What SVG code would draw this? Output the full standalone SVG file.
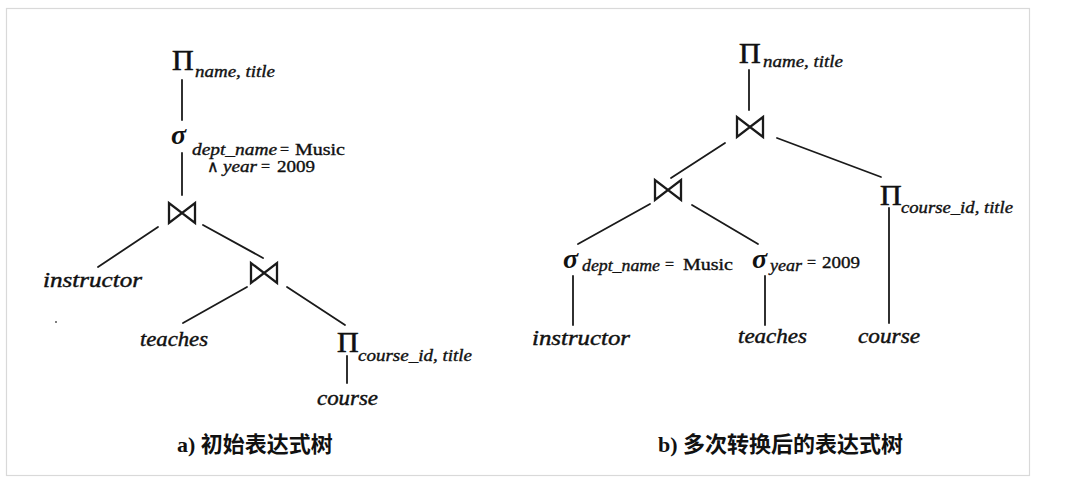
<svg xmlns="http://www.w3.org/2000/svg" xmlns:xlink="http://www.w3.org/1999/xlink" width="1080" height="490" viewBox="0 0 1080 490">
<style>
.m{font-family:"Liberation Serif",serif;font-style:italic;fill:#111;stroke:#111;stroke-width:0.35}
.up{font-style:normal}
.big{font-size:22px;stroke-width:0.45}
.sub{font-size:16px}
.pi{font-family:"Liberation Serif",serif;font-size:30px;fill:#111;stroke:#111;stroke-width:0.6}
.sg{font-family:"Liberation Serif",serif;font-style:italic;font-weight:bold;font-size:28px;fill:#111}
.cap{font-family:"Liberation Serif","Noto Sans CJK SC",sans-serif;font-weight:bold;font-size:22px;fill:#111}
.ln{stroke:#1a1a1a;stroke-width:1.8;fill:none;stroke-linecap:round}
.bt{stroke:#1a1a1a;stroke-width:2.3;fill:none;stroke-linejoin:miter}
</style>
<defs>
<path id="join" class="bt" d="M-13,-10 L-13,10 L13,-10 L13,10 Z"/>
</defs>
<rect x="0" y="0" width="1080" height="490" fill="#fff"/>
<rect x="6.5" y="8.5" width="1023" height="467" fill="#fff" stroke="#d9d9d9" stroke-width="1.2"/>

<g id="connectors">
<line class="ln" x1="182" y1="80" x2="182" y2="120"/>
<line class="ln" x1="182" y1="153" x2="182" y2="195"/>
<line class="ln" x1="158" y1="227" x2="98" y2="267"/>
<line class="ln" x1="203" y1="225" x2="263" y2="258"/>
<line class="ln" x1="247" y1="287" x2="183" y2="323"/>
<line class="ln" x1="287" y1="287" x2="345" y2="325"/>
<line class="ln" x1="347" y1="356" x2="347" y2="383"/>
<line class="ln" x1="749" y1="70" x2="749" y2="110"/>
<line class="ln" x1="725" y1="143" x2="671" y2="178"/>
<line class="ln" x1="777" y1="138" x2="881" y2="177"/>
<line class="ln" x1="650" y1="204" x2="578" y2="244"/>
<line class="ln" x1="692" y1="205" x2="758" y2="244"/>
<line class="ln" x1="889" y1="208" x2="889" y2="323"/>
<line class="ln" x1="573" y1="276" x2="573" y2="325"/>
<line class="ln" x1="765" y1="276" x2="765" y2="325"/>
</g>

<g id="a-proj-top">
<text class="pi" x="172" y="70">Π</text>
<text class="m sub" x="195" y="77" textLength="80" lengthAdjust="spacingAndGlyphs">name, title</text>
</g>
<g id="a-select">
<text class="sg" x="171" y="144">σ</text>
<text class="m sub" x="192" y="155" textLength="85" lengthAdjust="spacingAndGlyphs">dept_name</text>
<text class="m sub up" x="280" y="155">=</text>
<text class="m sub up" x="295" y="155" textLength="50" lengthAdjust="spacingAndGlyphs">Music</text>
<text class="m sub up" x="207" y="172" font-size="13">∧</text>
<text class="m sub" x="223" y="172" textLength="34" lengthAdjust="spacingAndGlyphs">year</text>
<text class="m sub up" x="261" y="172">=</text>
<text class="m sub up" x="277" y="172" textLength="38" lengthAdjust="spacingAndGlyphs">2009</text>
</g>
<g id="a-join1"><use xlink:href="#join" x="182" y="213"/></g>
<g id="a-instructor"><text class="m big" x="43" y="287" textLength="99" lengthAdjust="spacingAndGlyphs">instructor</text></g>
<g id="a-join2"><use xlink:href="#join" x="264" y="273"/></g>
<g id="a-teaches"><text class="m big" x="140" y="346" textLength="68" lengthAdjust="spacingAndGlyphs">teaches</text></g>
<g id="a-proj-course">
<text class="pi" x="337" y="352">Π</text>
<text class="m sub" x="358" y="361" textLength="114" lengthAdjust="spacingAndGlyphs">course_id, title</text>
</g>
<g id="a-course"><text class="m big" x="317" y="405" textLength="61" lengthAdjust="spacingAndGlyphs">course</text></g>
<circle cx="56" cy="322" r="1" fill="#555"/>
<g id="caption-a"><text class="cap" x="177" y="452">a) 初始表达式树</text></g>

<g id="b-proj-top">
<text class="pi" x="739" y="63">Π</text>
<text class="m sub" x="763" y="67" textLength="80" lengthAdjust="spacingAndGlyphs">name, title</text>
</g>
<g id="b-join1"><use xlink:href="#join" x="750" y="127"/></g>
<g id="b-join2"><use xlink:href="#join" x="668" y="190"/></g>
<g id="b-proj-course">
<text class="pi" x="880" y="205">Π</text>
<text class="m sub" x="901" y="213" textLength="112" lengthAdjust="spacingAndGlyphs">course_id, title</text>
</g>
<g id="b-select-dept">
<text class="sg" x="563" y="268">σ</text>
<text class="m sub" x="582" y="271" textLength="78" lengthAdjust="spacingAndGlyphs">dept_name</text>
<text class="m sub up" x="665" y="270">=</text>
<text class="m sub up" x="683" y="270" textLength="50" lengthAdjust="spacingAndGlyphs">Music</text>
</g>
<g id="b-select-year">
<text class="sg" x="752" y="268">σ</text>
<text class="m sub" x="770" y="271" textLength="32" lengthAdjust="spacingAndGlyphs">year</text>
<text class="m sub up" x="807" y="268">=</text>
<text class="m sub up" x="822" y="268" textLength="38" lengthAdjust="spacingAndGlyphs">2009</text>
</g>
<g id="b-instructor"><text class="m big" x="532" y="345" textLength="98" lengthAdjust="spacingAndGlyphs">instructor</text></g>
<g id="b-teaches"><text class="m big" x="738" y="343" textLength="69" lengthAdjust="spacingAndGlyphs">teaches</text></g>
<g id="b-course"><text class="m big" x="858" y="343" textLength="62" lengthAdjust="spacingAndGlyphs">course</text></g>
<g id="caption-b"><text class="cap" x="658" y="452">b) 多次转换后的表达式树</text></g>
</svg>
